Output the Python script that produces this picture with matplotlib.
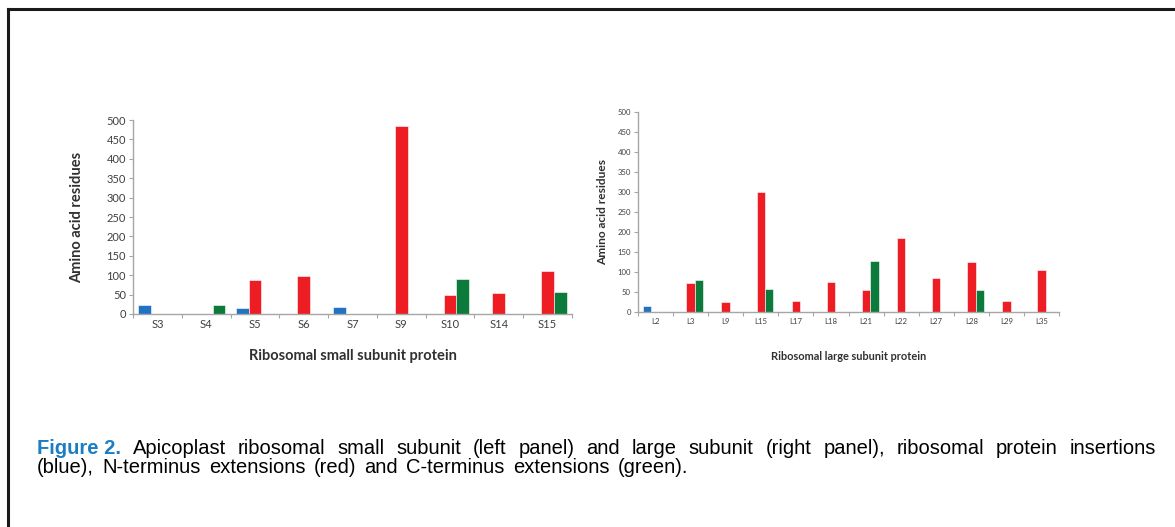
import matplotlib
matplotlib.use("Agg")
import matplotlib.pyplot as plt
import numpy as np

# left panel: small subunit
small_labels = ["S3", "S4", "S5", "S6", "S7", "S9", "S10", "S14", "S15"]
small_ins = [22, 0, 15, 0, 17, 0, 0, 0, 0]
small_nterm = [0, 0, 87, 97, 0, 485, 50, 55, 110]
small_cterm = [0, 22, 0, 0, 0, 0, 90, 0, 57]

# right panel: large subunit
large_labels = ["L2", "L3", "L9", "L15", "L17", "L18", "L21", "L22", "L27", "L28", "L29", "L35"]
large_ins = [15, 0, 0, 0, 0, 0, 0, 0, 0, 0, 0, 0]
large_nterm = [0, 72, 25, 300, 28, 75, 55, 185, 85, 125, 28, 105]
large_cterm = [0, 80, 0, 58, 0, 0, 127, 0, 0, 55, 0, 0]

yticks = [0, 50, 100, 150, 200, 250, 300, 350, 400, 450, 500]

BLUE = "#2272c3"
RED = "#ee1d24"
GREEN = "#0c7a3b"
AXIS = "#a6a6a6"

W, H = 1175, 527
fig = plt.figure(figsize=(W / 100, H / 100), dpi=100)

# frame lines (top and left only, picture is cropped)
fig.add_artist(plt.Line2D([8 / W, 1173 / W], [1 - 9 / H, 1 - 9 / H], color="#1a1a1a", lw=2.2))
fig.add_artist(plt.Line2D([8 / W, 8 / W], [0, 1 - 9 / H], color="#1a1a1a", lw=2.2))


def panel(rect, labels, ins, nterm, cterm, width, fs_tick, fs_xl, fs_yl, xlabel, xl_y, yl_x, xpad):
    ax = fig.add_axes(rect)
    x = np.arange(len(labels))
    ax.bar(x - width, ins, width, color=BLUE, edgecolor="white", linewidth=0.4)
    ax.bar(x, nterm, width, color=RED, edgecolor="white", linewidth=0.4)
    ax.bar(x + width, cterm, width, color=GREEN, edgecolor="white", linewidth=0.4)
    ax.set_xlim(-0.5, len(labels) - 0.5)
    ax.set_ylim(0, 500)
    ax.set_yticks(yticks)
    ax.set_xticks(x)
    ax.set_xticklabels(labels)
    ax.set_xticks(np.arange(len(labels) + 1) - 0.5, minor=True)
    ax.tick_params(axis="x", which="major", length=0, pad=xpad,
                   labelsize=fs_tick, labelcolor="#404040")
    ax.tick_params(axis="x", which="minor", length=3, color=AXIS, width=0.8)
    ax.tick_params(axis="y", length=3, color=AXIS, width=0.8, pad=2,
                   labelsize=fs_tick, labelcolor="#404040")
    for s in ["top", "right"]:
        ax.spines[s].set_visible(False)
    for s in ["left", "bottom"]:
        ax.spines[s].set_color(AXIS)
        ax.spines[s].set_linewidth(1.0)
    ax.set_xlabel(xlabel, fontsize=fs_xl, fontweight="bold", color="#303030")
    ax.xaxis.set_label_coords(0.5, xl_y)
    ax.set_ylabel("Amino acid residues", fontsize=fs_yl, fontweight="bold", color="#303030")
    ax.yaxis.set_label_coords(yl_x, 0.5)
    return ax


plt.rcParams["font.family"] = ["Lato", "DejaVu Sans"]

panel([133 / W, 1 - 314 / H, 439 / W, 194 / H], small_labels, small_ins, small_nterm,
      small_cterm, 0.26, 8, 10.5, 10.5, "Ribosomal small subunit protein", -0.18, -0.112, 3.5)
panel([638 / W, 1 - 312 / H, 421 / W, 200 / H], large_labels, large_ins, large_nterm,
      large_cterm, 0.24, 5.6, 7.9, 8.6, "Ribosomal large subunit protein", -0.195, -0.071, 4.5)

# caption, first line justified, second slightly spread to the original width
line1 = "Apicoplast ribosomal small subunit (left panel) and large subunit (right panel), ribosomal protein insertions"
line2 = "(blue), N-terminus extensions (red) and C-terminus extensions (green)."
cap_fs = 14.5
x0 = 37
y1, y2 = 1 - 454.5 / H, 1 - 473 / H

fig.canvas.draw()
renderer = fig.canvas.get_renderer()


def spread(items, y, right):
    widths = [t.get_window_extent(renderer).width for t in items]
    gap = (right - x0 - sum(widths)) / (len(items) - 1)
    pos = x0
    for t, wd in zip(items, widths):
        t.set_position((pos / W, y))
        pos += wd + gap


head = fig.text(0, y1, "Figure 2.", fontsize=cap_fs, fontweight="bold", color="#1b7dc3",
                family="Liberation Sans", va="baseline")
items1 = [head] + [fig.text(0, y1, w, fontsize=cap_fs, family="Liberation Sans", va="baseline")
                   for w in line1.split(" ")]
spread(items1, y1, 1156)

items2 = [fig.text(0, y2, w, fontsize=cap_fs, family="Liberation Sans", va="baseline")
          for w in line2.split(" ")]
spread(items2, y2, 688)

fig.savefig("out.png", dpi=100)
